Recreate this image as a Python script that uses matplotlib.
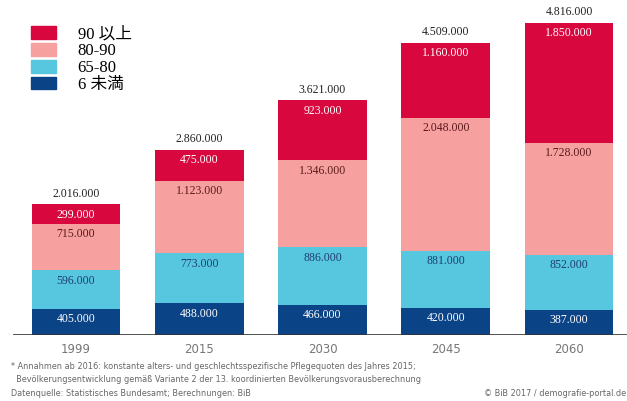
import numpy as np
import matplotlib.pyplot as plt
from matplotlib.patches import Patch

years = ['1999', '2015', '2030', '2045', '2060']
unter_65 = [405000, 488000, 466000, 420000, 387000]
age_65_80 = [596000, 773000, 886000, 881000, 852000]
age_80_90 = [715000, 1123000, 1346000, 2048000, 1728000]
ueber_90 = [299000, 475000, 923000, 1160000, 1850000]
totals = [2016000, 2860000, 3621000, 4509000, 4816000]

legend_labels = ['90 以上', '80-90', '65-80', '6 未満']

c_red = '#d8073d'
c_pink = '#f7a0a0'
c_cyan = '#57c6df'
c_navy = '#0b4387'

serif = ['Liberation Serif', 'Noto Sans CJK JP']
narrow = 'Liberation Sans Narrow'


def fmt(v):
    return f'{v:,}'.replace(',', '.')


fig = plt.figure(figsize=(6.27, 4.01), dpi=100)
ax = fig.add_axes([13/627, 66/401, 614/627, 335/401])

x = np.arange(len(years))
w = 0.72
segs = [
    (unter_65, c_navy, 'white'),
    (age_65_80, c_cyan, '#1d3f6e'),
    (age_80_90, c_pink, '#5a1a1a'),
    (ueber_90, c_red, 'white'),
]
bottom = np.zeros(len(years))
for vals, col, tcol in segs:
    vals = np.array(vals, dtype=float)
    ax.bar(x, vals, w, bottom=bottom, color=col, edgecolor='none')
    for xi, b, v in zip(x, bottom, vals):
        ax.text(xi, b + v - 160000, fmt(int(v)), ha='center', va='center',
                fontsize=8.5, color=tcol, family=serif)
    bottom += vals

# totals above each stack
for xi, b, t in zip(x, bottom, totals):
    ax.text(xi, b + 70000, fmt(t), ha='center', va='bottom',
            fontsize=8.5, color='#222222', family=serif)

ax.set_xlim(-0.511, 4.47)
ax.set_ylim(0, 5.17e6)
ax.axhline(0, color='#333333', lw=1.2)
for s in ax.spines.values():
    s.set_visible(False)
ax.set_yticks([])
ax.set_xticks(x)
ax.set_xticklabels(years, fontsize=8.5, color='#777777', family=narrow)
ax.tick_params(axis='x', length=0, pad=6)

handles = [Patch(color=c) for c in [c_red, c_pink, c_cyan, c_navy]]
fig.legend(handles, legend_labels, loc='upper left', bbox_to_anchor=(0.0255, 0.972),
           frameon=False, handlelength=1.5, handleheight=0.78, handletextpad=1.3,
           labelspacing=0.05, prop={'family': serif, 'size': 12})

foot = ('* Annahmen ab 2016: konstante alters- und geschlechtsspezifische Pflegequoten des Jahres 2015;\n'
        '  Bevölkerungsentwicklung gemäß Variante 2 der 13. koordinierten Bevölkerungsvorausberechnung')
fig.text(0.018, 1 - 373/401, foot, fontsize=5.9, color='#666666', va='center',
         family=narrow, linespacing=1.6)
fig.text(0.018, 1 - 393/401, 'Datenquelle: Statistisches Bundesamt; Berechnungen: BiB', fontsize=5.9,
         color='#666666', family=narrow, va='center')
fig.text(0.999, 1 - 393/401, '© BiB 2017 / demografie-portal.de', fontsize=5.9, ha='right',
         color='#666666', family=narrow, va='center')

fig.savefig('out.png', dpi=100)
